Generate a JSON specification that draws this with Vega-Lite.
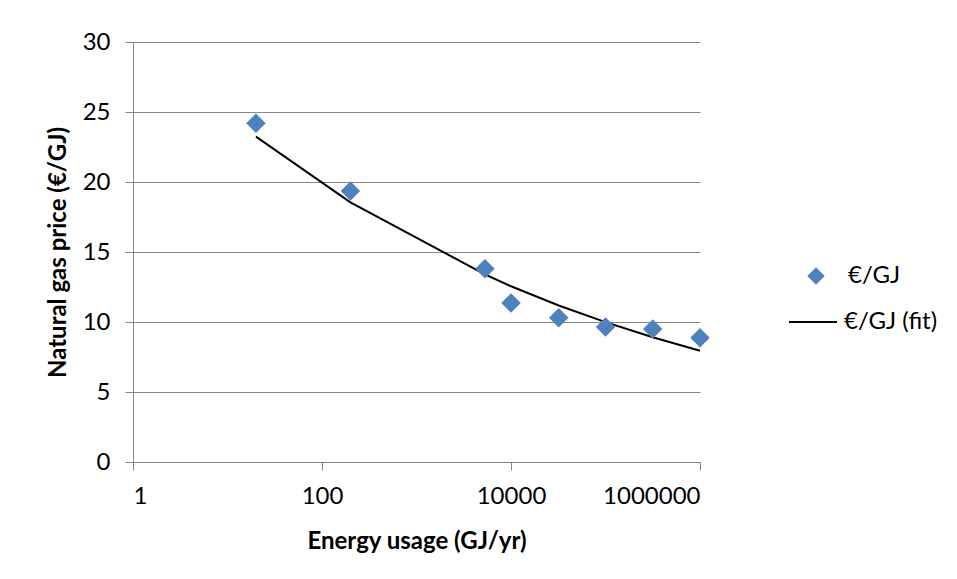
{
  "$schema": "https://vega.github.io/schema/vega-lite/v6.json",
  "width": 567,
  "height": 420,
  "autosize": "none",
  "padding": {"left": 133, "top": 42, "right": 257, "bottom": 117},
  "background": "white",
  "config": {
    "font": "Lato",
    "view": {"stroke": null},
    "axis": {"labelFont": "Lato", "titleFont": "Lato", "labelColor": "black", "titleColor": "black"}
  },
  "datasets": {
    "obs": [
      {"usage": 20, "price": 24.2, "series": "€/GJ"},
      {"usage": 200, "price": 19.35, "series": "€/GJ"},
      {"usage": 5300, "price": 13.8, "series": "€/GJ"},
      {"usage": 10000, "price": 11.36, "series": "€/GJ"},
      {"usage": 32000, "price": 10.3, "series": "€/GJ"},
      {"usage": 100000, "price": 9.65, "series": "€/GJ"},
      {"usage": 316000, "price": 9.5, "series": "€/GJ"},
      {"usage": 1000000, "price": 8.88, "series": "€/GJ"}
    ],
    "fit": [
      {"usage": 20, "price": 23.24, "series": "€/GJ (fit)"},
      {"usage": 200, "price": 18.55, "series": "€/GJ (fit)"},
      {"usage": 5300, "price": 13.4, "series": "€/GJ (fit)"},
      {"usage": 10000, "price": 12.55, "series": "€/GJ (fit)"},
      {"usage": 32000, "price": 11.18, "series": "€/GJ (fit)"},
      {"usage": 100000, "price": 9.99, "series": "€/GJ (fit)"},
      {"usage": 316000, "price": 8.91, "series": "€/GJ (fit)"},
      {"usage": 1000000, "price": 7.95, "series": "€/GJ (fit)"}
    ]
  },
  "encoding": {
    "x": {
      "field": "usage", "type": "quantitative",
      "scale": {"type": "log", "domain": [1, 1000000], "nice": false},
      "axis": {
        "title": "Energy usage (GJ/yr)",
        "values": [1, 100, 10000, 1000000],
        "format": "d",
        "grid": false,
        "domainColor": "#868686", "tickColor": "#868686",
        "tickSize": 8, "labelFontSize": 24, "labelPadding": 14,
        "titleFontSize": 24, "titleFontWeight": "bold", "titlePadding": 21
      }
    },
    "y": {
      "field": "price", "type": "quantitative",
      "scale": {"domain": [0, 30], "nice": false},
      "axis": {
        "title": "Natural gas price (€/GJ)",
        "values": [0, 5, 10, 15, 20, 25, 30],
        "grid": true, "gridColor": "#868686", "gridOpacity": 1,
        "domainColor": "#868686", "tickColor": "#868686",
        "tickSize": 8, "labelFontSize": 24, "labelPadding": 15,
        "titleFontSize": 24, "titleFontWeight": "bold", "titlePadding": 12
      }
    }
  },
  "layer": [
    {
      "data": {"name": "fit"},
      "mark": {"type": "line", "strokeWidth": 2},
      "encoding": {
        "stroke": {
          "field": "series", "type": "nominal",
          "scale": {"range": ["black"]},
          "legend": {
            "title": null, "orient": "none", "legendX": 655, "legendY": 255,
            "symbolType": "stroke", "symbolSize": 2304, "symbolStrokeWidth": 2,
            "labelFontSize": 24, "labelFont": "Lato", "labelOffset": 6, "labelColor": "black"
          }
        }
      }
    },
    {
      "data": {"name": "obs"},
      "mark": {"type": "point", "shape": "diamond", "filled": true, "opacity": 1, "size": 380},
      "encoding": {
        "color": {
          "field": "series", "type": "nominal",
          "scale": {"range": ["#4F81BD"]},
          "legend": {
            "title": null, "orient": "none", "legendX": 671, "legendY": 222,
            "symbolType": "diamond", "symbolSize": 300, "symbolFillColor": "#4F81BD", "symbolStrokeWidth": 0,
            "symbolOpacity": 1,
            "labelFontSize": 24, "labelFont": "Lato", "labelOffset": 20, "labelColor": "black"
          }
        }
      }
    }
  ]
}
